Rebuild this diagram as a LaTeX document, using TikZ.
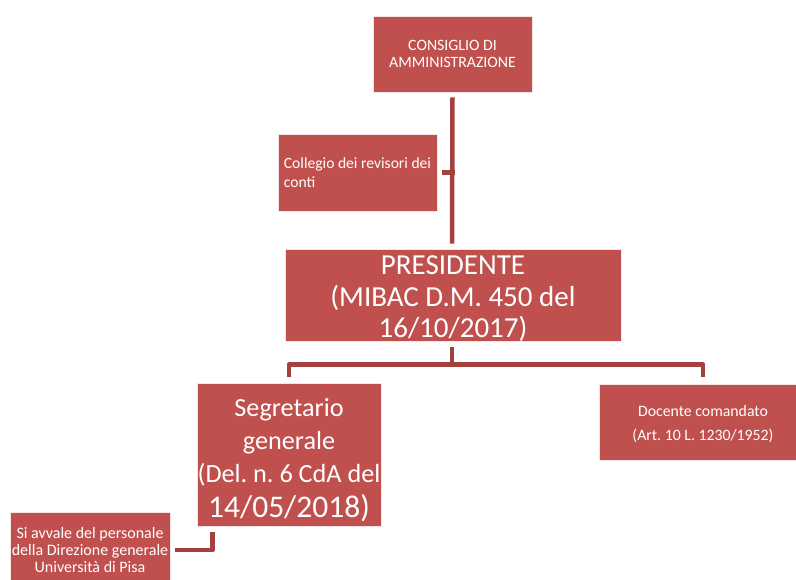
\documentclass[tikz,border=0pt]{standalone}
\usepackage{fontspec}
\setmainfont{Carlito}
\usetikzlibrary{calc}
\frenchspacing
\definecolor{boxred}{HTML}{C0504D}
\definecolor{linered}{HTML}{A3413E}
\begin{document}
\begin{tikzpicture}[x=1pt,y=-1pt,
  orgbox/.style={draw=white!85!boxred,line width=0.6pt,fill=boxred,text=white,align=center,inner sep=0pt},
  boxtext/.style={text=white,align=center,inner sep=0pt},
  conn/.style={draw=linered,line width=4.5pt,line join=round}]
\useasboundingbox (0,0) rectangle (796,579);
\node[orgbox,font=\fontsize{15.8}{17}\selectfont,minimum width=159pt,minimum height=76pt] (cda) at (452.5,54) {CONSIGLIO DI\\AMMINISTRAZIONE};
\node[orgbox,font=\fontsize{15.6}{18.4}\selectfont,minimum width=159pt,minimum height=77pt,align=left] (coll) at (357.5,172.5) {Collegio dei revisori dei\\conti};
\node[orgbox,minimum width=336pt,minimum height=92pt] (pres) at (453,295) {};
\node[boxtext,font=\fontsize{29}{31.5}\selectfont] (prest) at ($(pres.center)+(0,4)$) {PRESIDENTE\\(MIBAC D.M. 450 del\\16/10/2017)};
\node[orgbox,minimum width=184pt,minimum height=143pt] (segr) at (289,454.5) {};
\node[boxtext,font=\fontsize{26.2}{33}\selectfont] (segrt) at ($(segr.center)+(0,6)$) {Segretario\\generale\\(Del. n. 6 CdA del\\[2pt]{\fontsize{31.5}{33}\selectfont 14/05/2018)}};
\node[orgbox,minimum width=208pt,minimum height=76pt] (doc) at (703,422) {};
\node[boxtext,font=\fontsize{15.8}{24}\selectfont] (doct) at ($(doc.center)+(0,2.5)$) {Docente comandato\\(Art. 10 L. 1230/1952)};
\node[orgbox,font=\fontsize{16}{17}\selectfont,minimum width=160pt,minimum height=76pt] (avv) at (90,550) {Si avvale del personale\\della Direzione generale\\Università di Pisa};
% CdA to Presidente
\draw[conn] ($(cda.south)+(0,5)$) -- ($(pres.north)+(-1,-5)$);
% Collegio stub
\coordinate (tcoll) at (coll.east -| cda.south);
\draw[conn] ($(coll.east)+(5,0)$) -- ($(tcoll)+(2,0)$);
% Presidente to children
\coordinate (pb) at ($(pres.south)+(-1,6)$);
\coordinate (hm) at ($(pres.south)+(-1,23)$);
\draw[conn] (pb) -- (hm) -| ($(segr.north)+(0,-6)$);
\draw[conn] (hm) -| ($(doc.north)+(0,-7)$);
% Segretario to Si avvale
\coordinate (sb) at ($(segr.south west)+(16,6)$);
\draw[conn] (sb) |- ($(avv.east)+(5,0)$);
\end{tikzpicture}
\end{document}
